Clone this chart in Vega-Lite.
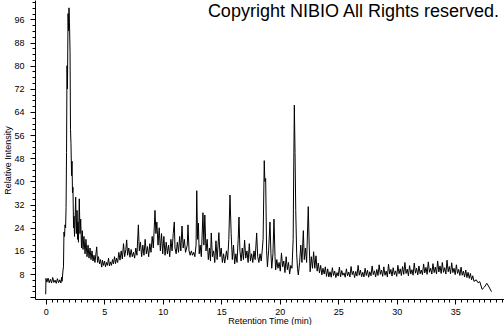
{
"$schema": "https://vega.github.io/schema/vega-lite/v6.json",
"width": 469, "height": 299,
"autosize": "none",
"padding": {"left": 35, "top": 0, "right": 0, "bottom": 26},
"background": "white",
"config": {"view": {"stroke": null}, "font": "Liberation Sans"},
"title": {"text": "Copyright NIBIO All Rights reserved.", "anchor": "end", "orient": "top", "frame": "group", "offset": -37, "fontSize": 18, "fontWeight": "normal", "font": "Liberation Sans", "color": "black", "dx": -5, "baseline": "alphabetic"},
"data": {"values": [
{"t":0.0,"v":1.0},{"t":0.02,"v":6.5},{"t":0.1,"v":5.2},{"t":0.2,"v":6.6},{"t":0.3,"v":5.0},{"t":0.4,"v":6.2},{"t":0.5,"v":4.9},{"t":0.6,"v":6.8},{"t":0.7,"v":5.1},{"t":0.8,"v":5.9},{"t":0.9,"v":4.8},{"t":1.0,"v":6.4},{"t":1.1,"v":5.0},{"t":1.2,"v":6.0},{"t":1.3,"v":4.9},{"t":1.36,"v":6.9},{"t":1.40,"v":5.5},
{"t":1.48,"v":9.4},{"t":1.52,"v":10.5},{"t":1.56,"v":22.5},{"t":1.61,"v":21},{"t":1.65,"v":25},{"t":1.70,"v":24},{"t":1.74,"v":31},{"t":1.78,"v":50},{"t":1.82,"v":80},{"t":1.86,"v":72},{"t":1.91,"v":98},{"t":1.95,"v":92},{"t":1.99,"v":100},{"t":2.03,"v":95},{"t":2.08,"v":85},{"t":2.12,"v":58},{"t":2.16,"v":53},{"t":2.21,"v":42},{"t":2.25,"v":47},{"t":2.29,"v":36},{"t":2.33,"v":38},{"t":2.38,"v":24},{"t":2.42,"v":28},{"t":2.46,"v":21},{"t":2.50,"v":25},{"t":2.56,"v":34.6},{"t":2.62,"v":22},{"t":2.68,"v":30},{"t":2.72,"v":20},{"t":2.76,"v":26},{"t":2.80,"v":19},{"t":2.87,"v":34},{"t":2.93,"v":22},{"t":2.99,"v":27},{"t":3.06,"v":17},{"t":3.13,"v":23},{"t":3.19,"v":16.5},{"t":3.27,"v":21},{"t":3.36,"v":15},{"t":3.44,"v":20},{"t":3.53,"v":14},{"t":3.62,"v":18},{"t":3.70,"v":13.5},{"t":3.79,"v":17},{"t":3.87,"v":13},{"t":3.96,"v":16},{"t":4.04,"v":12.5},{"t":4.13,"v":14.5},{"t":4.21,"v":12},{"t":4.36,"v":17.4},{"t":4.43,"v":12},{"t":4.51,"v":14},{"t":4.60,"v":11.5},{"t":4.68,"v":13},{"t":4.79,"v":10.4},{"t":4.85,"v":12.8},{"t":4.94,"v":11},{"t":5.03,"v":12.5},{"t":5.11,"v":10.5},{"t":5.20,"v":12},{"t":5.28,"v":11},{"t":5.37,"v":13.5},{"t":5.45,"v":10.8},{"t":5.54,"v":12.2},{"t":5.62,"v":11},{"t":5.71,"v":13},{"t":5.79,"v":11.5},{"t":5.88,"v":14},{"t":5.97,"v":11.6},
{"t":6.05,"v":13.5},{"t":6.15,"v":12},{"t":6.25,"v":15.5},{"t":6.35,"v":12.8},{"t":6.45,"v":16},{"t":6.55,"v":13.2},{"t":6.65,"v":18.5},{"t":6.75,"v":14},{"t":6.85,"v":16.5},{"t":6.92,"v":19.8},{"t":7.00,"v":14.5},{"t":7.10,"v":17},{"t":7.20,"v":13.8},{"t":7.30,"v":16.5},{"t":7.40,"v":14},{"t":7.50,"v":15.5},{"t":7.60,"v":13.5},{"t":7.70,"v":17},{"t":7.80,"v":14.5},{"t":7.92,"v":25},{"t":8.00,"v":16},{"t":8.10,"v":19},{"t":8.20,"v":14},{"t":8.30,"v":18},{"t":8.40,"v":14.5},{"t":8.50,"v":20},{"t":8.60,"v":15},{"t":8.70,"v":17.5},{"t":8.80,"v":14},{"t":8.90,"v":18.5},{"t":9.00,"v":15.5},{"t":9.10,"v":21},{"t":9.20,"v":17},{"t":9.34,"v":30},{"t":9.42,"v":22},{"t":9.50,"v":26},{"t":9.60,"v":18},{"t":9.70,"v":24},{"t":9.80,"v":16},{"t":9.90,"v":22},{"t":10.00,"v":15},{"t":10.10,"v":21},{"t":10.20,"v":14.5},{"t":10.30,"v":19},{"t":10.40,"v":15},{"t":10.50,"v":18},{"t":10.60,"v":14},{"t":10.70,"v":20},{"t":10.80,"v":16},{"t":10.90,"v":22},{"t":10.99,"v":26},{"t":11.05,"v":17},{"t":11.15,"v":15},{"t":11.25,"v":19},{"t":11.35,"v":15.5},{"t":11.45,"v":21},{"t":11.55,"v":16},{"t":11.65,"v":24.6},{"t":11.75,"v":17},{"t":11.85,"v":20},{"t":11.95,"v":15.5},{"t":12.10,"v":18},{"t":12.16,"v":25},{"t":12.25,"v":16},{"t":12.35,"v":14.5},{"t":12.45,"v":16},{"t":12.55,"v":14.5},{"t":12.65,"v":15.5},{"t":12.75,"v":14},{"t":12.85,"v":18},{"t":12.91,"v":36.8},{"t":12.98,"v":20},{"t":13.05,"v":25.6},{"t":13.12,"v":15},{"t":13.20,"v":18},{"t":13.30,"v":14},{"t":13.44,"v":29.2},{"t":13.52,"v":18},{"t":13.60,"v":28.4},{"t":13.70,"v":16},{"t":13.80,"v":20},{"t":13.90,"v":13},{"t":14.00,"v":17},{"t":14.08,"v":12.5},{"t":14.15,"v":22.2},{"t":14.25,"v":14},{"t":14.35,"v":16},{"t":14.45,"v":12},{"t":14.55,"v":19.5},{"t":14.65,"v":13},{"t":14.80,"v":22.3},{"t":14.90,"v":14},{"t":15.00,"v":17},{"t":15.10,"v":12},{"t":15.20,"v":15},{"t":15.30,"v":11.8},{"t":15.45,"v":16},{"t":15.55,"v":13},{"t":15.65,"v":20},{"t":15.75,"v":35.3},{"t":15.85,"v":22},{"t":15.95,"v":13},{"t":16.05,"v":18},{"t":16.15,"v":11.5},{"t":16.25,"v":15},{"t":16.35,"v":12},{"t":16.45,"v":20},{"t":16.52,"v":27.7},{"t":16.60,"v":16},{"t":16.70,"v":12.5},{"t":16.80,"v":17},{"t":16.90,"v":13},{"t":17.00,"v":19.7},{"t":17.10,"v":13.5},{"t":17.20,"v":16},{"t":17.30,"v":12},{"t":17.40,"v":18.5},{"t":17.50,"v":12.5},{"t":17.60,"v":15},{"t":17.70,"v":12},{"t":17.80,"v":16},{"t":17.90,"v":13},{"t":18.03,"v":22.2},{"t":18.12,"v":14},{"t":18.22,"v":12},{"t":18.32,"v":15},{"t":18.42,"v":12.5},{"t":18.50,"v":16},{"t":18.58,"v":20},{"t":18.68,"v":47.2},{"t":18.73,"v":40},{"t":18.80,"v":41},{"t":18.88,"v":16},{"t":18.95,"v":10.5},{"t":19.05,"v":16},{"t":19.17,"v":26},{"t":19.25,"v":15},{"t":19.32,"v":10},{"t":19.42,"v":15},{"t":19.51,"v":27},{"t":19.60,"v":14},{"t":19.65,"v":9.4},{"t":19.75,"v":13},{"t":19.85,"v":10},{"t":19.95,"v":12},{"t":20.05,"v":9},{"t":20.15,"v":15.3},{"t":20.25,"v":10.5},{"t":20.35,"v":12.5},{"t":20.45,"v":8.5},{"t":20.55,"v":14},{"t":20.65,"v":9.5},{"t":20.75,"v":12},{"t":20.85,"v":8},{"t":20.95,"v":11},{"t":21.05,"v":10},{"t":21.15,"v":20},{"t":21.20,"v":45},{"t":21.25,"v":66.4},{"t":21.31,"v":50},{"t":21.37,"v":30},{"t":21.45,"v":15},{"t":21.52,"v":10},{"t":21.59,"v":7.7},{"t":21.70,"v":12},{"t":21.80,"v":18},{"t":21.90,"v":12},{"t":22.02,"v":23},{"t":22.10,"v":13},{"t":22.20,"v":17},{"t":22.30,"v":12},{"t":22.44,"v":31.3},{"t":22.52,"v":18},{"t":22.60,"v":8.8},{"t":22.70,"v":14},{"t":22.80,"v":10},{"t":22.90,"v":15.7},{"t":23.00,"v":10},{"t":23.10,"v":14.3},{"t":23.20,"v":9},{"t":23.30,"v":11.8},{"t":23.40,"v":8.4},{"t":23.50,"v":11},{"t":23.60,"v":7.7},{"t":23.70,"v":10},{"t":23.80,"v":8},{"t":23.90,"v":10.5},
{"t":24.0,"v":7.2},{"t":24.1,"v":9.8},{"t":24.2,"v":7.0},{"t":24.3,"v":8.8},{"t":24.4,"v":6.9},{"t":24.5,"v":10.2},{"t":24.6,"v":7.5},{"t":24.7,"v":9.0},{"t":24.8,"v":6.8},{"t":24.9,"v":8.5},{"t":25.0,"v":7.3},{"t":25.1,"v":10.4},{"t":25.2,"v":7.0},{"t":25.3,"v":9.2},{"t":25.4,"v":7.6},{"t":25.5,"v":8.4},{"t":25.6,"v":6.9},{"t":25.7,"v":9.8},{"t":25.8,"v":7.4},{"t":25.9,"v":8.7},{"t":26.0,"v":7.0},{"t":26.1,"v":10.6},{"t":26.2,"v":7.8},{"t":26.3,"v":9.0},{"t":26.4,"v":6.8},{"t":26.5,"v":8.9},{"t":26.6,"v":7.3},{"t":26.7,"v":11.0},{"t":26.8,"v":7.6},{"t":26.9,"v":9.4},{"t":27.0,"v":7.1},{"t":27.1,"v":8.6},{"t":27.2,"v":7.0},{"t":27.3,"v":10.0},{"t":27.4,"v":7.5},{"t":27.5,"v":9.3},{"t":27.6,"v":6.9},{"t":27.7,"v":8.8},{"t":27.8,"v":7.4},{"t":27.9,"v":10.8},{"t":28.0,"v":7.8},{"t":28.1,"v":9.1},{"t":28.2,"v":7.0},{"t":28.3,"v":9.6},{"t":28.4,"v":7.5},{"t":28.5,"v":11.2},{"t":28.6,"v":7.9},{"t":28.7,"v":9.4},{"t":28.8,"v":7.2},{"t":28.9,"v":10.5},{"t":29.0,"v":7.6},{"t":29.1,"v":9.0},{"t":29.2,"v":7.0},{"t":29.3,"v":11.4},{"t":29.4,"v":8.0},{"t":29.5,"v":9.6},{"t":29.6,"v":7.3},{"t":29.7,"v":10.2},{"t":29.8,"v":7.8},{"t":29.9,"v":9.1},{"t":30.0,"v":7.2},{"t":30.1,"v":11.0},{"t":30.2,"v":8.1},{"t":30.3,"v":9.8},{"t":30.4,"v":7.5},{"t":30.5,"v":10.6},{"t":30.6,"v":7.9},{"t":30.7,"v":12.0},{"t":30.8,"v":8.2},{"t":30.9,"v":9.7},{"t":31.0,"v":7.4},{"t":31.1,"v":10.9},{"t":31.2,"v":8.0},{"t":31.3,"v":9.5},{"t":31.4,"v":7.6},{"t":31.5,"v":11.8},{"t":31.6,"v":8.3},{"t":31.7,"v":10.0},{"t":31.8,"v":7.7},{"t":31.9,"v":10.8},{"t":32.0,"v":8.1},{"t":32.1,"v":9.4},{"t":32.2,"v":7.8},{"t":32.3,"v":11.5},{"t":32.4,"v":8.4},{"t":32.5,"v":10.3},{"t":32.6,"v":7.9},{"t":32.7,"v":12.2},{"t":32.8,"v":8.6},{"t":32.9,"v":10.0},{"t":33.0,"v":8.0},{"t":33.1,"v":11.6},{"t":33.2,"v":8.5},{"t":33.3,"v":10.4},{"t":33.4,"v":8.0},{"t":33.5,"v":12.5},{"t":33.6,"v":8.7},{"t":33.7,"v":10.8},{"t":33.8,"v":8.2},{"t":33.9,"v":12.0},{"t":34.0,"v":8.6},{"t":34.1,"v":10.2},{"t":34.2,"v":8.0},{"t":34.3,"v":12.8},{"t":34.4,"v":8.8},{"t":34.5,"v":10.6},{"t":34.6,"v":8.1},{"t":34.7,"v":11.9},{"t":34.8,"v":8.5},{"t":34.9,"v":10.0},{"t":35.0,"v":7.8},{"t":35.1,"v":11.2},{"t":35.2,"v":8.2},{"t":35.3,"v":9.6},{"t":35.4,"v":7.5},{"t":35.5,"v":10.4},{"t":35.6,"v":7.6},{"t":35.7,"v":9.0},{"t":35.8,"v":7.0},{"t":35.9,"v":9.4},{"t":36.0,"v":6.8},{"t":36.1,"v":8.6},{"t":36.2,"v":6.5},{"t":36.3,"v":8.2},{"t":36.4,"v":6.0},{"t":36.5,"v":7.4},{"t":36.6,"v":5.5},{"t":36.8,"v":6.0},{"t":36.95,"v":5.0},{"t":37.1,"v":5.4},{"t":37.3,"v":2.7},{"t":37.5,"v":3.5},{"t":37.7,"v":4.8},{"t":37.8,"v":4.2},{"t":38.1,"v":1.9}
]},
"mark": {"type": "line", "color": "black", "strokeWidth": 1},
"encoding": {
  "x": {"field": "t", "type": "quantitative",
    "scale": {"domain": [-0.915, 39.17], "nice": false, "zero": false},
    "axis": {"title": "Retention Time (min)", "values": [0,0.5,1,1.5,2,2.5,3,3.5,4,4.5,5,5.5,6,6.5,7,7.5,8,8.5,9,9.5,10,10.5,11,11.5,12,12.5,13,13.5,14,14.5,15,15.5,16,16.5,17,17.5,18,18.5,19,19.5,20,20.5,21,21.5,22,22.5,23,23.5,24,24.5,25,25.5,26,26.5,27,27.5,28,28.5,29,29.5,30,30.5,31,31.5,32,32.5,33,33.5,34,34.5,35,35.5,36,36.5,37,37.5,38,38.5,39],
      "labelExpr": "datum.value % 5 === 0 ? format(datum.value, 'd') : ''",
      "labelOverlap": false, "labelFlush": false, "grid": false,
      "tickSize": {"condition": {"test": "datum.value % 5 === 0", "value": 5}, "value": 3},
      "tickColor": "black", "domainColor": "black", "labelColor": "black", "titleColor": "black",
      "labelFontSize": 9, "labelFont": "Liberation Sans", "labelPadding": 3,
      "titleFontSize": 9, "titleFontWeight": "normal", "titleFont": "Liberation Sans", "titleBaseline": "alphabetic", "titleY": 24}},
  "y": {"field": "v", "type": "quantitative",
    "scale": {"domain": [-0.62, 102.7], "nice": false, "zero": false},
    "axis": {"title": "Relative Intensity", "values": [0,2,4,6,8,10,12,14,16,18,20,22,24,26,28,30,32,34,36,38,40,42,44,46,48,50,52,54,56,58,60,62,64,66,68,70,72,74,76,78,80,82,84,86,88,90,92,94,96,98,100,102],
      "labelExpr": "datum.value % 8 === 0 && datum.value > 0 ? format(datum.value, 'd') : ''",
      "labelOverlap": false, "labelFlush": false, "grid": false,
      "tickSize": {"condition": {"test": "datum.value % 8 === 0", "value": 5}, "value": 3},
      "tickColor": "black", "domainColor": "black", "labelColor": "black", "titleColor": "black",
      "labelFontSize": 9, "labelFont": "Liberation Sans", "labelPadding": 6,
      "titleFontSize": 9, "titleFontWeight": "normal", "titleFont": "Liberation Sans", "titleBaseline": "alphabetic", "titleX": -25, "titleY": 160}}
}
}
